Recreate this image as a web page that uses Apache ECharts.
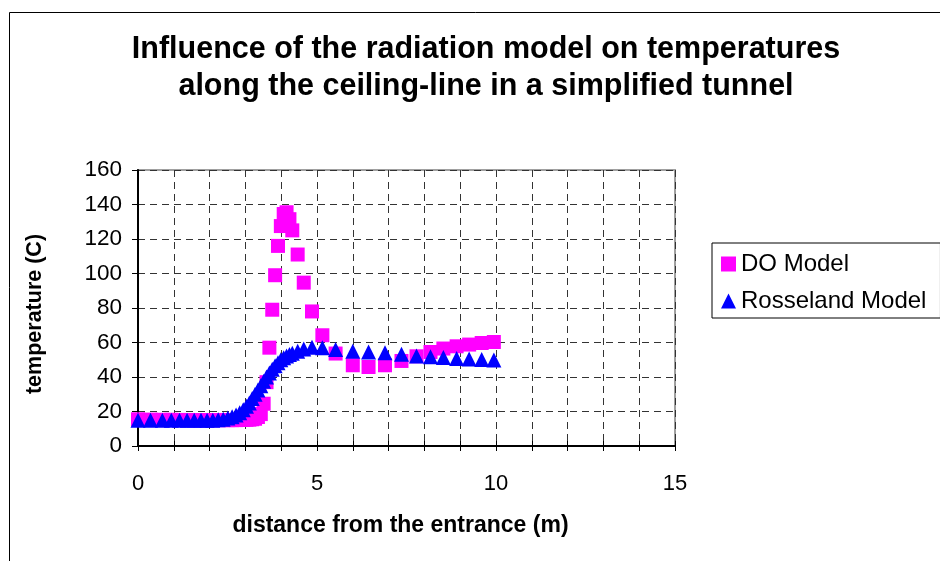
<!DOCTYPE html>
<html>
<head>
<meta charset="utf-8">
<script src="https://cdn.jsdelivr.net/npm/echarts@6/dist/echarts.min.js"></script>
<style>
  html, body { margin: 0; padding: 0; background: #fff; }
  #main { width: 940px; height: 561px; }
</style>
</head>
<body>
<div id="main"></div>
<script>
// distance from the entrance (m), shared by both series
var distance = [0.00, 0.35, 0.68, 0.93, 1.16, 1.37, 1.57, 1.76, 1.93, 2.09,
	2.24, 2.38, 2.51, 2.63, 2.74, 2.84, 2.94, 3.03, 3.11, 3.19,
	3.27, 3.35, 3.43, 3.51, 3.59, 3.67, 3.75, 3.83, 3.91, 3.99,
	4.07, 4.15, 4.23, 4.31, 4.46, 4.63, 4.86, 5.15, 5.52, 6.00,
	6.44, 6.90, 7.36, 7.78, 8.17, 8.53, 8.90, 9.25, 9.60, 9.94];

var doModel = [15.5, 15.3, 15.2, 15.2, 15.1, 15.1, 15.0, 15.0, 15.0, 15.0,
	15.0, 15.0, 15.0, 15.0, 15.0, 15.1, 15.1, 15.2, 15.3, 15.5,
	15.8, 16.8, 18.5, 24.5, 37, 57, 79, 99, 116, 127.5,
	134.5, 135.5, 131.5, 125, 111, 94.7, 78, 64.2, 53.6, 46.8,
	45.8, 46.8, 49.3, 52.0, 54.5, 56.5, 57.8, 58.8, 59.7, 60.3];

var rosselandModel = [15, 15, 15, 15, 15, 15, 15, 15, 15, 15,
	15.2, 15.5, 16.2, 17, 18, 19.3, 21, 23, 25, 27.5,
	30, 32.5, 35, 37.5, 40, 42.3, 44.5, 46.5, 48.3, 50,
	51.2, 52.2, 53, 53.7, 55, 56.2, 57.2, 57, 56, 55,
	54.5, 54, 53.2, 52.2, 51.7, 51.3, 50.7, 50.5, 50.1, 49.9];

var xLabels = ['0', '5', '10', '15'];

function pairs(ys) {
	return distance.map(function (x, i) { return [x, ys[i]]; });
}

var font = 'Liberation Sans, Arial, sans-serif';
var myChart = echarts.init(document.getElementById('main'), null, { renderer: 'canvas' });

var option = {
	backgroundColor: '#fff',
	animation: false,
	graphic: [{
		type: 'rect',
		shape: { x: 9.5, y: 12.5, width: 1000, height: 1000 },
		style: { fill: 'none', stroke: '#000', lineWidth: 1 },
		silent: true
	}],
	title: {
		text: 'Influence of the radiation model on temperatures\nalong the ceiling-line in a simplified tunnel',
		left: 481,
		top: 26,
		textAlign: 'center',
		textStyle: {
			fontFamily: font,
			fontSize: 30.5,
			fontWeight: 'bold',
			color: '#000',
			lineHeight: 37
		}
	},
	legend: {
		orient: 'vertical',
		left: 712,
		top: 243,
		padding: [9, 14, 5, 9],
		itemWidth: 15,
		itemHeight: 15,
		itemGap: 13,
		borderColor: '#000',
		borderWidth: 1,
		textStyle: { fontFamily: font, fontSize: 24, color: '#000', lineHeight: 24 },
		data: [
			{ name: 'DO Model', icon: 'rect' },
			{ name: 'Rosseland Model', icon: 'triangle' }
		]
	},
	grid: {
		left: 138,
		top: 170,
		width: 537,
		height: 276,
		show: true,
		borderColor: '#a0a0a0',
		borderWidth: 2
	},
	xAxis: [{
		type: 'value',
		min: 0,
		max: 15,
		interval: 1,
		name: 'distance from the entrance (m)',
		nameLocation: 'middle',
		nameGap: 68,
		nameTextStyle: { fontFamily: font, fontSize: 23, fontWeight: 'bold', color: '#000', padding: [0, 12, 0, 0] },
		axisLine: { show: true, onZero: false, lineStyle: { color: '#000', width: 2 } },
		axisTick: { show: true, length: 5, lineStyle: { color: '#000', width: 1 } },
		axisLabel: {
			fontFamily: font, fontSize: 22, color: '#000', margin: 27,
			formatter: function (v) { return v % 5 === 0 ? xLabels[v / 5] : ''; }
		},
		splitLine: { show: true, lineStyle: { color: '#333', width: 1, type: [7, 5] } }
	}, {
		type: 'value',
		min: 0,
		max: 15,
		interval: 1,
		position: 'bottom',
		axisLine: { show: false },
		axisTick: { show: true, inside: true, length: 5, lineStyle: { color: '#000', width: 1 } },
		axisLabel: { show: false },
		splitLine: { show: false }
	}],
	yAxis: {
		type: 'value',
		min: 0,
		max: 160,
		interval: 20,
		name: 'temperature (C)',
		nameLocation: 'middle',
		nameGap: 92,
		nameTextStyle: { fontFamily: font, fontSize: 21.5, fontWeight: 'bold', color: '#000', padding: [0, 12, 0, 0] },
		axisLine: { show: true, lineStyle: { color: '#000', width: 2 } },
		axisTick: { show: true, length: 6, lineStyle: { color: '#000', width: 1 } },
		axisLabel: { fontFamily: font, fontSize: 22.5, color: '#000', margin: 16 },
		splitLine: { show: true, lineStyle: { color: '#333', width: 1, type: [7, 5] } }
	},
	series: [{
		name: 'DO Model',
		type: 'scatter',
		symbol: 'rect',
		symbolSize: 14,
		itemStyle: { color: '#ff00ff', opacity: 1 },
		data: pairs(doModel)
	}, {
		name: 'Rosseland Model',
		type: 'scatter',
		symbol: 'triangle',
		symbolSize: 15,
		itemStyle: { color: '#0000ff', opacity: 1 },
		data: pairs(rosselandModel)
	}]
};
myChart.setOption(option);
</script>
</body>
</html>
